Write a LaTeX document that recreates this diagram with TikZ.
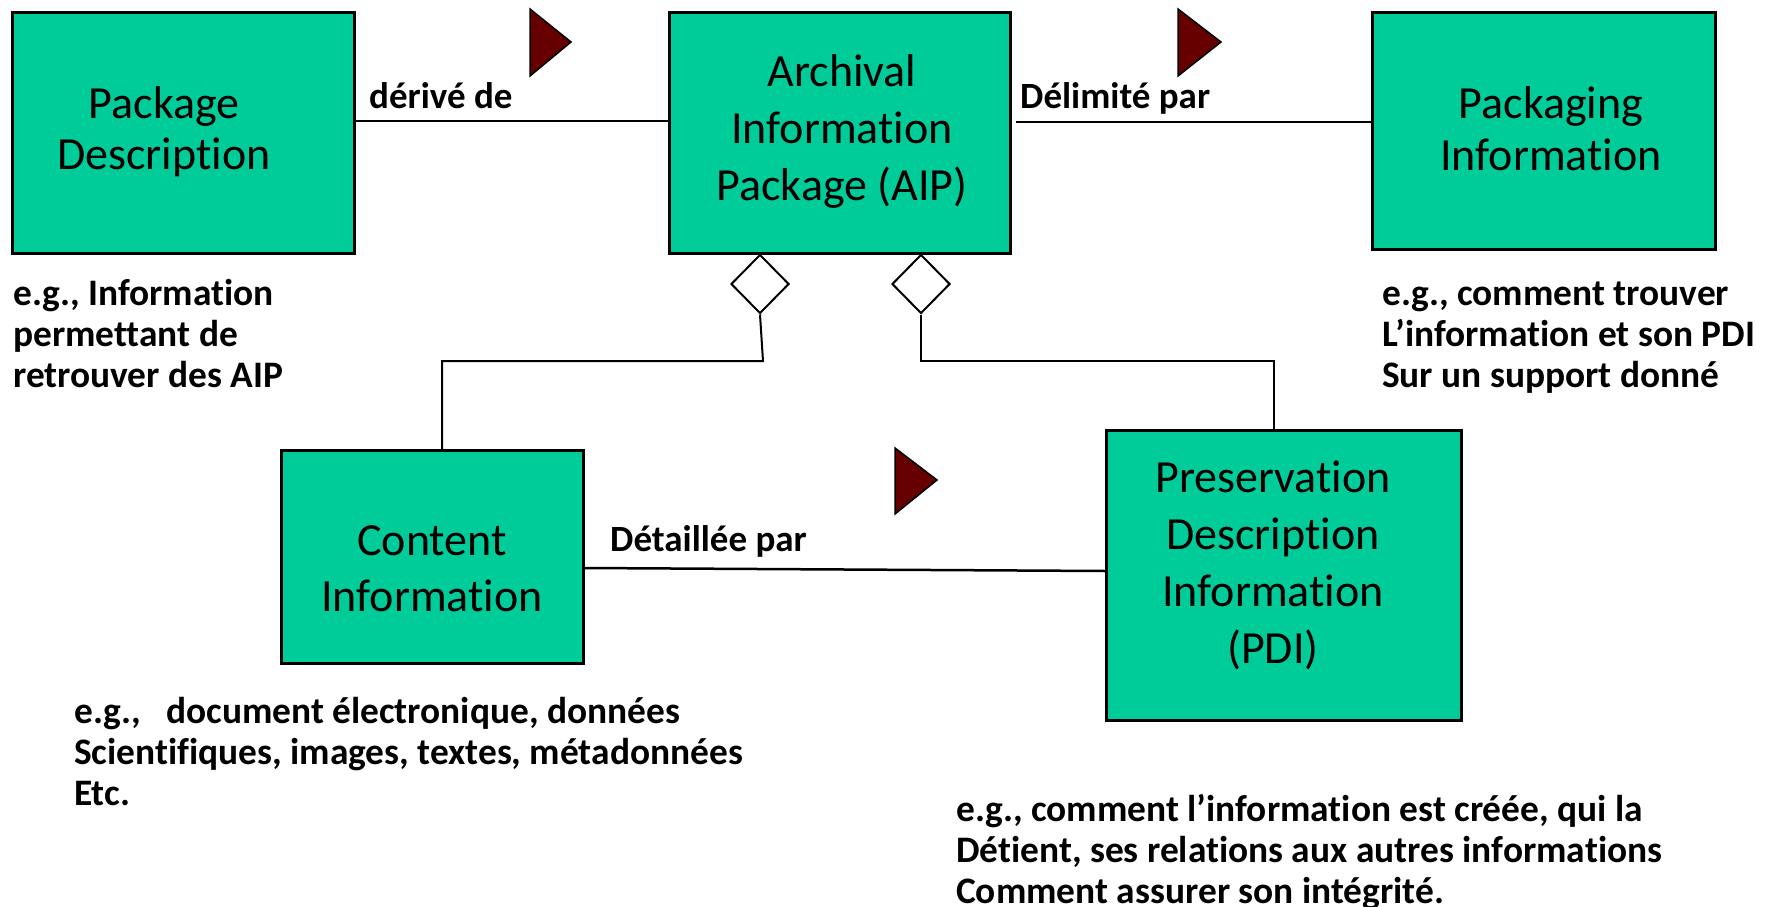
\documentclass[tikz,border=0pt]{standalone}
\usepackage{fontspec}
\setmainfont{Carlito}[Ligatures=CommonOff]
\usetikzlibrary{shapes.geometric}
\definecolor{boxgreen}{HTML}{00CC99}
\definecolor{tridark}{HTML}{660000}
\begin{document}
\begin{tikzpicture}[x=1pt,y=-1pt,
  box/.style={draw=black, line width=3pt, fill=boxgreen, inner sep=0pt, anchor=north west},
  boxtext/.style={align=center, inner sep=0pt},
  note/.style={align=left, inner sep=0pt, anchor=north west, font=\bfseries\fontsize{37.4}{41}\selectfont},
  lbl/.style={inner sep=0pt, anchor=west, font=\bfseries\fontsize{37}{44}\selectfont},
  conn/.style={draw=black, line width=2.5pt},
  agg/.style={diamond, draw=black, line width=2pt, fill=white, minimum width=58pt, minimum height=59pt, inner sep=0pt},
  flag/.style={draw=black, line width=1.5pt, fill=tridark, line join=miter}]
\useasboundingbox (0,0) rectangle (1769,907);

% boxes
\node[box, minimum width=342pt, minimum height=241pt] (pd) at (11,11) {};
\node[box, minimum width=341pt, minimum height=241pt] (aip) at (668,11) {};
\node[box, minimum width=343pt, minimum height=237pt] (pi) at (1371,11) {};
\node[box, minimum width=302pt, minimum height=213pt] (ci) at (280,449) {};
\node[box, minimum width=355pt, minimum height=290pt] (pdi) at (1105,429) {};

% box texts
\node[boxtext, font=\fontsize{46}{51}\selectfont] (pdT) at (164,132) {Package\\Description};
\node[boxtext, font=\fontsize{46}{57}\selectfont] (aipT) at (842,131) {Archival\\Information\\Package (AIP)};
\node[boxtext, font=\fontsize{46}{52}\selectfont] (piT) at (1551,129) {Packaging\\Information};
\node[boxtext, font=\fontsize{46}{56}\selectfont] (ciT) at (432,569) {Content\\Information};
\node[boxtext, font=\fontsize{46}{57}\selectfont] (pdiT) at (1273,565) {Preservation\\Description\\Information\\(PDI)};

% aggregation diamonds
\node[agg] (d1) at (760,284) {};
\node[agg] (d2) at (921,284) {};

% connectors
\draw[conn] (pd.east |- 0,121) -- (aip.west |- 0,121);
\coordinate (dstart) at (1016,122);
\draw[conn] (dstart) -- (pi.west |- dstart);
\draw[conn] (ci.east |- 0,568) -- (pdi.west |- 0,571);
\coordinate (c1a) at (763,361);
\coordinate (c1b) at (442,361);
\draw[conn, line width=2pt] (d1.south) -- (c1a) -- (c1b) -- (c1b |- ci.north);
\coordinate (c2a) at (921,361);
\coordinate (c2b) at (1274,361);
\draw[conn, line width=2pt] (d2.south) -- (c2a) -- (c2b) -- (c2b |- pdi.north);

% direction flags
\draw[flag] (530,9) -- (530,76) -- (571,42) -- cycle;
\draw[flag] (1178,9) -- (1178,76) -- (1221,42) -- cycle;
\draw[flag] (895,448) -- (895,514) -- (937,480) -- cycle;

% connector labels
\node[lbl] (l1) at (369,96) {dérivé de};
\node[lbl] (l2) at (1020,98) {Délimité par};
\node[lbl] (l3) at (610,541) {Détaillée par};

% notes
\node[note] (pdN) at (13,279) {e.g., Information\\permettant de\\retrouver des AIP};
\node[note] (piN) at (1382,282) {e.g., comment trouver\\L’information et son PDI\\Sur un support donné};
\node[note] (ciN) at (74,697) {e.g.,\ \ \ document électronique, données\\Scientifiques, images, textes, métadonnées\\Etc.};
\node[note] (pdiN) at (956,794) {e.g., comment l’information est créée, qui la\\Détient, ses relations aux autres informations\\Comment assurer son intégrité.};
\end{tikzpicture}
\end{document}
